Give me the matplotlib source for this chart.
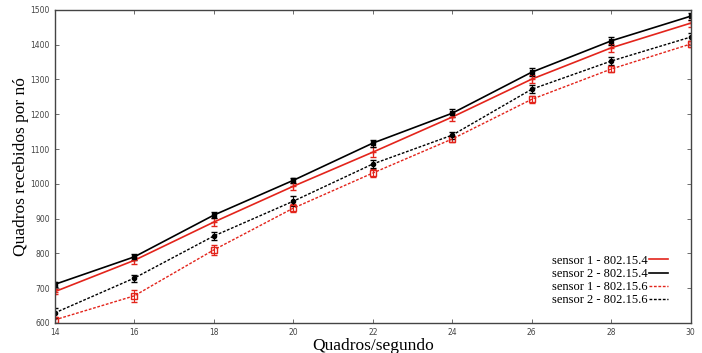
import numpy as np
import matplotlib
matplotlib.use('Agg')
import matplotlib.pyplot as plt
from matplotlib.lines import Line2D

fps = [14, 16, 18, 20, 22, 24, 26, 28, 30]

s1_154 = [690, 780, 890, 993, 1091, 1192, 1301, 1391, 1462]
s2_154 = [711, 790, 910, 1010, 1117, 1203, 1321, 1411, 1482]
s1_156 = [609, 678, 810, 930, 1031, 1129, 1243, 1330, 1402]
s2_156 = [629, 729, 850, 950, 1057, 1140, 1272, 1353, 1422]

err_s1_154 = [8, 10, 12, 10, 14, 12, 12, 12, 10]
err_s2_154 = [8, 8, 8, 8, 10, 12, 12, 12, 10]
err_s1_156 = [8, 18, 14, 12, 12, 8, 10, 8, 8]
err_s2_156 = [15, 10, 12, 15, 12, 10, 12, 12, 12]

labels = ['sensor 1 - 802.15.4', 'sensor 2 - 802.15.4',
          'sensor 1 - 802.15.6', 'sensor 2 - 802.15.6']

red = '#e3241b'
dots = (0, (2, 1.2))

fig = plt.figure(figsize=(7.02, 3.53), dpi=100)
ax = fig.add_axes([0.078, 0.085, 0.906, 0.887])

ax.errorbar(fps, s1_154, yerr=err_s1_154, color=red, lw=1.2, marker='+', ms=5,
            capsize=2, elinewidth=0.8, label=labels[0])
ax.errorbar(fps, s2_154, yerr=err_s2_154, color='black', lw=1.2, marker='s', ms=3,
            capsize=2, elinewidth=0.8, label=labels[1])
ax.errorbar(fps, s1_156, yerr=err_s1_156, color=red, lw=1.0, ls=dots, marker='s', ms=4,
            mfc='none', capsize=2, elinewidth=0.8, label=labels[2])
ax.errorbar(fps, s2_156, yerr=err_s2_156, color='black', lw=1.0, ls=dots, marker='o', ms=3,
            capsize=2, elinewidth=0.8, label=labels[3])

ax.set_xlim(14, 30)
ax.set_ylim(600, 1500)
ax.set_xticks(fps)
ax.set_yticks(np.arange(600, 1501, 100))
ax.tick_params(direction='in', top=True, right=True, length=3, width=0.6,
               labelsize=5.5, labelcolor='#444444', colors='#555555')
for sp in ax.spines.values():
    sp.set_linewidth(1.0)
    sp.set_color('#444444')

ax.set_xlabel('Quadros/segundo', family='Liberation Serif', fontsize=12.5, labelpad=1)
ax.set_ylabel('Quadros recebidos por nó', family='Liberation Serif', fontsize=12.5, labelpad=1)

h = [Line2D([], [], color=red, lw=1.2),
     Line2D([], [], color='black', lw=1.2),
     Line2D([], [], color=red, lw=1.0, ls=dots),
     Line2D([], [], color='black', lw=1.0, ls=dots)]
ax.legend(h, labels, loc='lower right', bbox_to_anchor=(0.978, 0.025), frameon=False,
          markerfirst=False, handlelength=1.5, handletextpad=0.15, labelspacing=0.1,
          borderpad=0.2, prop={'family': 'Liberation Serif', 'size': 9})

fig.savefig('out.png', dpi=100)
